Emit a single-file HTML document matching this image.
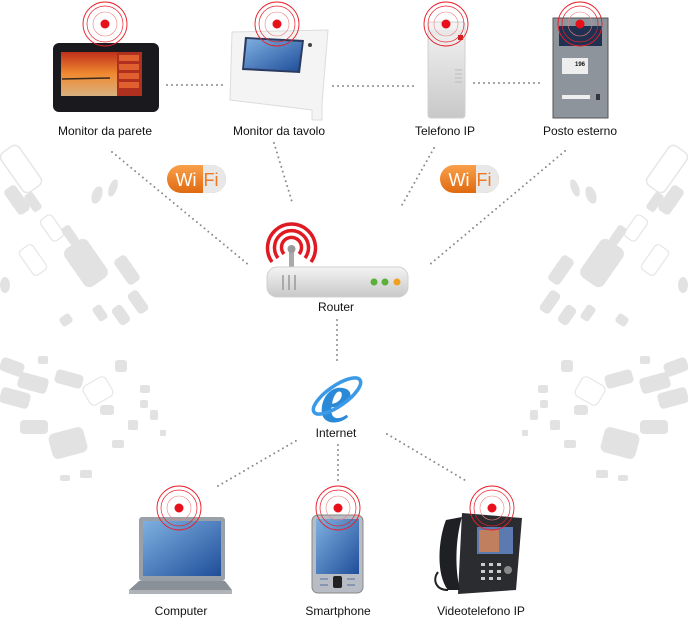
<!DOCTYPE html>
<html><head><meta charset="utf-8"><style>
html,body{margin:0;padding:0;background:#fff;width:688px;height:625px;overflow:hidden}
svg{display:block}
text{font-family:"Liberation Sans Narrow","Liberation Sans",sans-serif;font-size:12px;fill:#111;text-anchor:middle}
</style></head><body>
<svg width="688" height="625" viewBox="0 0 688 625" xmlns="http://www.w3.org/2000/svg">
<defs>
<g id="tgt">
<circle r="22" fill="none" stroke="#e8202a" stroke-width="0.9"/>
<circle r="18" fill="none" stroke="#e8202a" stroke-width="0.7"/>
<circle r="12" fill="none" stroke="#f08080" stroke-width="0.6"/>
<circle r="4.5" fill="#e8101a"/>
</g>
<linearGradient id="blue" x1="0" y1="0" x2="1" y2="1"><stop offset="0" stop-color="#7fb0e0"/><stop offset="1" stop-color="#1f4e9a"/></linearGradient>
<linearGradient id="org" x1="0" y1="0" x2="0" y2="1"><stop offset="0" stop-color="#f9a04a"/><stop offset="1" stop-color="#e06a10"/></linearGradient>
<linearGradient id="gry" x1="0" y1="0" x2="0" y2="1"><stop offset="0" stop-color="#f4f4f4"/><stop offset="1" stop-color="#c8c8c8"/></linearGradient>
<linearGradient id="sunset" x1="0" y1="0" x2="0" y2="1"><stop offset="0" stop-color="#c0301a"/><stop offset="0.5" stop-color="#f08a30"/><stop offset="1" stop-color="#d8b080"/></linearGradient>
<g id="deco" fill="#e2e2e2">
<rect x="10" y="145" width="22" height="48" rx="6" transform="rotate(-35 21 169)" fill="none" stroke="#e6e6e6" stroke-width="1.5"/>
<rect x="10" y="185" width="14" height="30" rx="4" transform="rotate(-35 17 200)"/>
<rect x="28" y="192" width="10" height="20" rx="3" transform="rotate(-35 33 202)"/>
<ellipse cx="97" cy="195" rx="5" ry="9" transform="rotate(20 97 195)"/>
<ellipse cx="113" cy="188" rx="4" ry="9" transform="rotate(20 113 188)"/>
<rect x="45" y="215" width="14" height="26" rx="4" transform="rotate(-35 52 228)" fill="none" stroke="#e6e6e6" stroke-width="1.2"/>
<rect x="65" y="225" width="10" height="20" rx="3" transform="rotate(-35 70 235)"/>
<rect x="25" y="245" width="16" height="30" rx="4" transform="rotate(-35 33 260)" fill="none" stroke="#e6e6e6" stroke-width="1.2"/>
<rect x="72" y="240" width="28" height="46" rx="7" transform="rotate(-35 86 263)"/>
<rect x="120" y="255" width="14" height="30" rx="4" transform="rotate(-35 127 270)"/>
<rect x="132" y="290" width="12" height="24" rx="4" transform="rotate(-35 138 302)"/>
<rect x="115" y="305" width="12" height="20" rx="4" transform="rotate(-35 121 315)"/>
<rect x="60" y="315" width="12" height="10" rx="3" transform="rotate(-35 66 320)"/>
<rect x="95" y="305" width="10" height="16" rx="3" transform="rotate(-35 100 313)"/>
<ellipse cx="5" cy="285" rx="5" ry="8"/>
<rect x="0" y="360" width="24" height="14" rx="4" transform="rotate(20 12 367)"/>
<rect x="38" y="356" width="10" height="8" rx="2"/>
<rect x="18" y="375" width="30" height="16" rx="4" transform="rotate(15 33 383)"/>
<rect x="0" y="390" width="30" height="16" rx="4" transform="rotate(15 15 398)"/>
<rect x="55" y="372" width="28" height="14" rx="4" transform="rotate(15 69 379)"/>
<rect x="85" y="380" width="26" height="22" rx="5" transform="rotate(-30 98 391)" fill="none" stroke="#e6e6e6" stroke-width="1.2"/>
<rect x="20" y="420" width="28" height="14" rx="4"/>
<rect x="50" y="430" width="36" height="26" rx="6" transform="rotate(-15 68 443)"/>
<rect x="115" y="360" width="12" height="12" rx="3"/>
<rect x="100" y="405" width="14" height="10" rx="3"/>
<rect x="128" y="420" width="10" height="10" rx="2"/>
<rect x="140" y="400" width="8" height="8" rx="2"/>
<rect x="150" y="410" width="8" height="10" rx="2"/>
<rect x="160" y="430" width="6" height="6" rx="1"/>
<rect x="112" y="440" width="12" height="8" rx="2"/>
<rect x="140" y="385" width="10" height="8" rx="2"/>
<rect x="80" y="470" width="12" height="8" rx="2"/>
<rect x="60" y="475" width="10" height="6" rx="2"/>
</g>
</defs>

<use href="#deco"/>
<use href="#deco" transform="translate(688 0) scale(-1 1)"/>

<g stroke="#8a8a8a" stroke-width="2" stroke-linecap="round" stroke-dasharray="0 5" fill="none">
<line x1="167" y1="85" x2="226" y2="85"/>
<line x1="333" y1="86" x2="417" y2="86"/>
<line x1="474" y1="83" x2="540" y2="83"/>
<line x1="112" y1="152" x2="250" y2="266"/>
<line x1="274" y1="143" x2="293" y2="205"/>
<line x1="434" y1="148" x2="402" y2="205"/>
<line x1="565" y1="151" x2="428" y2="266"/>
<line x1="337" y1="320" x2="337" y2="364"/>
<line x1="218" y1="486" x2="299" y2="439"/>
<line x1="338" y1="445" x2="338" y2="485"/>
<line x1="387" y1="434" x2="468" y2="482"/>
</g>

<!-- Monitor da parete -->
<rect x="53" y="43" width="106" height="69" rx="6" fill="#1a1a1e"/>
<rect x="61" y="52" width="56" height="44" fill="url(#sunset)"/>
<rect x="117" y="52" width="25" height="44" fill="#b03020"/>
<g fill="#e06030"><rect x="119" y="55" width="20" height="6"/><rect x="119" y="64" width="20" height="6"/><rect x="119" y="73" width="20" height="6"/><rect x="119" y="82" width="20" height="6"/></g>
<line x1="62" y1="79" x2="110" y2="78" stroke="#3a2a20" stroke-width="1.5"/>
<use href="#tgt" x="105" y="24"/>
<text x="105" y="135">Monitor da parete</text>

<!-- Monitor da tavolo -->
<path d="M232 32 L328 30 L322 104 L322 120 L312 120 L312 110 L230 100 Z" fill="#f4f4f4" stroke="#dcdcdc"/>
<path d="M245 37 L304 40 L300 73 L242 70 Z" fill="#2a3a60"/>
<path d="M247 39 L302 42 L298 71 L244 68 Z" fill="url(#blue)"/>
<circle cx="310" cy="45" r="2" fill="#444"/>
<use href="#tgt" x="277" y="24"/>
<text x="279" y="135">Monitor da tavolo</text>

<!-- Telefono IP -->
<rect x="428" y="22" width="37" height="96" rx="3" fill="url(#gry)" stroke="#d0d0d0"/>
<rect x="430" y="30" width="33" height="6" fill="#e8e8e8"/>
<rect x="458" y="35" width="5" height="5" fill="#d02020"/>
<g stroke="#bbb"><line x1="455" y1="70" x2="462" y2="70"/><line x1="455" y1="74" x2="462" y2="74"/><line x1="455" y1="78" x2="462" y2="78"/><line x1="455" y1="82" x2="462" y2="82"/></g>
<use href="#tgt" x="446" y="24"/>
<text x="445" y="135">Telefono IP</text>

<!-- Posto esterno -->
<rect x="553" y="18" width="55" height="100" fill="#8e949c" stroke="#555"/>
<rect x="559" y="26" width="43" height="20" fill="#203050"/>
<rect x="562" y="58" width="26" height="16" fill="#eee"/>
<text x="580" y="66" style="font-size:6px;font-weight:bold">196</text>
<rect x="562" y="95" width="28" height="4" fill="#eee"/>
<rect x="596" y="94" width="4" height="6" fill="#334"/>
<use href="#tgt" x="580" y="24"/>
<text x="580" y="135">Posto esterno</text>

<!-- WiFi pills -->
<g>
<rect x="167" y="165" width="59" height="28" rx="14" fill="url(#org)"/>
<path d="M203 165 h9 a14 14 0 0 1 0 28 h-9 Z" fill="#e8e8e8"/>
<text x="186" y="186" style="font-size:18px;fill:#fff;font-family:'Liberation Sans',sans-serif">Wi</text>
<text x="211" y="186" style="font-size:18px;fill:#f07820;font-family:'Liberation Sans',sans-serif">Fi</text>
</g>
<g>
<rect x="440" y="165" width="59" height="28" rx="14" fill="url(#org)"/>
<path d="M476 165 h9 a14 14 0 0 1 0 28 h-9 Z" fill="#e8e8e8"/>
<text x="459" y="186" style="font-size:18px;fill:#fff;font-family:'Liberation Sans',sans-serif">Wi</text>
<text x="484" y="186" style="font-size:18px;fill:#f07820;font-family:'Liberation Sans',sans-serif">Fi</text>
</g>

<!-- Router -->
<g fill="none" stroke="#e01a22" stroke-width="3.5">
<path d="M272 262 A24 24 0 1 1 311 262"/>
<path d="M278 258 A17 17 0 1 1 305 258"/>
<path d="M284 254 A10 10 0 1 1 299 254"/>
</g>
<rect x="289" y="250" width="5" height="20" fill="#aaa"/>
<circle cx="291.5" cy="249" r="4" fill="#999"/>
<rect x="267" y="267" width="141" height="30" rx="10" fill="url(#gry)" stroke="#d0d0d0"/>
<g stroke="#999" stroke-width="1.5"><line x1="283" y1="275" x2="283" y2="290"/><line x1="289" y1="275" x2="289" y2="290"/><line x1="295" y1="275" x2="295" y2="290"/></g>
<circle cx="374" cy="282" r="3.5" fill="#5cb03a"/>
<circle cx="385" cy="282" r="3.5" fill="#5cb03a"/>
<circle cx="397" cy="282" r="3.5" fill="#f0a020"/>
<text x="336" y="311">Router</text>

<!-- Internet -->
<text x="336" y="422" style="font-size:72px;font-family:'Liberation Serif',serif;font-style:italic;font-weight:bold;fill:#2a8ad8">e</text>
<ellipse cx="337" cy="396" rx="28" ry="10" transform="rotate(-35 337 396)" fill="none" stroke="#3a9ae8" stroke-width="3.5"/>
<text x="336" y="437">Internet</text>

<!-- Computer -->
<rect x="139" y="517" width="86" height="64" rx="3" fill="#9aa0a8"/>
<rect x="143" y="521" width="78" height="55" fill="url(#blue)"/>
<path d="M129 590 L139 581 L225 581 L232 590 Z" fill="#8a9098"/>
<rect x="129" y="590" width="103" height="4" fill="#b0b4b8"/>
<use href="#tgt" x="179" y="508"/>
<text x="181" y="615">Computer</text>

<!-- Smartphone -->
<rect x="312" y="515" width="51" height="78" rx="6" fill="#b8bcc4" stroke="#888"/>
<rect x="316" y="519" width="43" height="55" fill="url(#blue)"/>
<rect x="333" y="576" width="9" height="12" rx="2" fill="#222"/>
<g stroke="#5070a0"><line x1="320" y1="579" x2="328" y2="579"/><line x1="347" y1="579" x2="355" y2="579"/><line x1="320" y1="585" x2="328" y2="585"/><line x1="347" y1="585" x2="355" y2="585"/></g>
<use href="#tgt" x="338" y="508"/>
<text x="338" y="615">Smartphone</text>

<!-- Videotelefono -->
<path d="M462 513 L522 518 L516 590 L458 594 Z" fill="#2a2c30"/>
<path d="M446 520 C438 540 436 575 448 590 L460 590 C455 570 455 540 462 517 Z" fill="#1e2024"/>
<path d="M448 590 C436 590 432 580 438 572" fill="none" stroke="#222" stroke-width="2"/>
<rect x="477" y="527" width="36" height="27" fill="#5a7ab0"/>
<rect x="479" y="530" width="20" height="22" fill="#c08060"/>
<g fill="#ccc"><rect x="481" y="563" width="4" height="3"/><rect x="489" y="563" width="4" height="3"/><rect x="497" y="563" width="4" height="3"/><rect x="481" y="570" width="4" height="3"/><rect x="489" y="570" width="4" height="3"/><rect x="497" y="570" width="4" height="3"/><rect x="481" y="577" width="4" height="3"/><rect x="489" y="577" width="4" height="3"/><rect x="497" y="577" width="4" height="3"/><circle cx="508" cy="570" r="4" fill="#888"/></g>
<use href="#tgt" x="492" y="508"/>
<text x="481" y="615">Videotelefono IP</text>
</svg>
</body></html>
